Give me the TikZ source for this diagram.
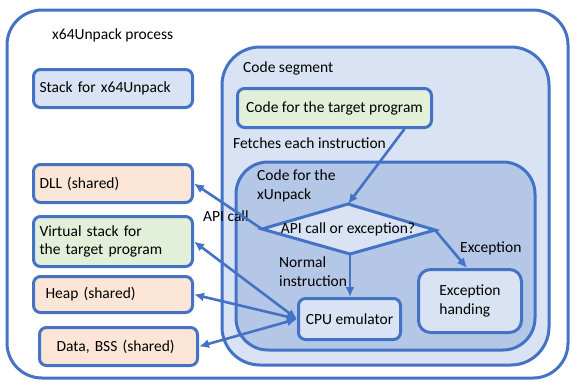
\documentclass[tikz,border=0pt]{standalone}
\usepackage{fontspec}
\setmainfont{Carlito}
\usepackage{xcolor}
\usetikzlibrary{arrows.meta,positioning}

\definecolor{ublue}{HTML}{4472C4}
\definecolor{lblue}{HTML}{DAE3F3}
\definecolor{mblue}{HTML}{B4C7E7}
\definecolor{lgreen}{HTML}{E2F0D9}
\definecolor{lpeach}{HTML}{FBE5D6}

\begin{document}
\begin{tikzpicture}[x=1pt, y=-1pt, font=\fontsize{15.5}{18.5}\selectfont,
    box/.style={draw=ublue, line width=3pt, rounded corners=7pt, inner sep=6pt},
    lbox/.style={box, anchor=north west, text width=147pt, minimum height=38pt, align=left},
    region/.style={draw=ublue, line width=3pt},
    lbl/.style={anchor=west, inner sep=0pt, align=left},
    arr/.style={ublue, line width=2.6pt, -{Latex[length=10pt,width=9pt]}},
    darr/.style={ublue, line width=2.6pt, {Latex[length=10pt,width=9pt]}-{Latex[length=10pt,width=9pt]}}]
    \useasboundingbox (0,0) rectangle (572,381);

    % nested regions
    \draw[region, rounded corners=35pt] (7,10) rectangle (568,378);
    \draw[region, fill=lblue, rounded corners=38pt] (222,47) rectangle (549,365);
    \draw[region, fill=mblue, rounded corners=32pt] (236,162) rectangle (535,350);

    \node[lbl] (ptitle) at (52,35) {x64Unpack process};
    \node[lbl] (cstitle) at (243,68) {Code segment};
    \node[lbl] (fetchl) at (233,143) {Fetches each instruction};
    \node[lbl] (xutitle) at (257,186) {Code for the\\xUnpack};

    % memory on the left
    \node[lbox, fill=lblue] (stack) at (32,68) {Stack for x64Unpack};
    \node[lbox, fill=lpeach] (dll) at (32,163) {DLL (shared)};
    \node[lbox, fill=lgreen, minimum height=50pt] (vstack) at (32,215) {Virtual stack for\\the target program};
    \node[lbox, fill=lpeach, minimum height=36pt, inner xsep=12pt, text width=135pt] (heap) at (32,275) {Heap (shared)};
    \node[lbox, fill=lpeach, inner xsep=17pt, text width=124pt] (data) at (38,326) {Data, BSS (shared)};

    % code
    \node[box, fill=lgreen, anchor=north west, minimum width=194pt, minimum height=39pt] (target) at (236,87) {Code for the target program};
    \coordinate (dtop) at (348,204);
    \coordinate (dright) at (435,230);
    \coordinate (dbot) at (350,254);
    \coordinate (dleft) at (262,229);
    \draw[region, fill=lblue] (dtop) -- (dright) -- (dbot) -- (dleft) -- cycle;
    \node (dq) at (348,229) {API call or exception?};
    \node[box, fill=lblue, anchor=north west, minimum width=102pt, minimum height=41pt] (cpu) at (297,297) {CPU emulator};
    \node[box, fill=lblue, anchor=north west, minimum width=103pt, minimum height=63pt, rounded corners=12pt, align=left] (exc) at (417,268) {Exception\\handing};

    \node[lbl] (apil) at (203,216) {API call};
    \node[lbl] (norml) at (279,271.5) {Normal\\instruction};
    \node[lbl] (excl) at (460,248) {Exception};

    \draw[arr] ([xshift=70pt]target.south) -- (dtop);
    \draw[arr] (dbot) -- (dbot |- cpu.north);
    \draw[arr] (dright) -- ([xshift=-3pt]exc.north);
    \draw[arr] (dleft) -- (dll.east);
    \draw[darr] (cpu.west) -- (vstack.east);
    \draw[darr] (cpu.west) -- (heap.east);
    \draw[darr] (cpu.west) -- (data.east);
\end{tikzpicture}
\end{document}
